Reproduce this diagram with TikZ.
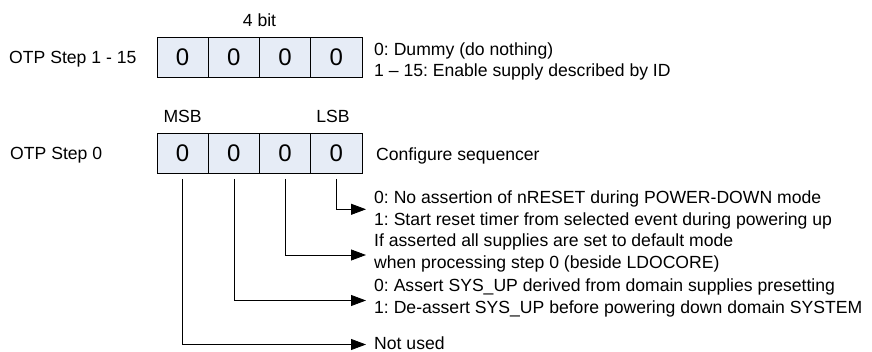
\documentclass[tikz,border=0pt]{standalone}
\usepackage{fontspec}
\setmainfont{Liberation Sans}
\frenchspacing
\usetikzlibrary{arrows.meta}
\definecolor{cellfill}{RGB}{230,236,246}
\tikzset{
  cell/.style={draw=black, fill=cellfill, line width=0.8pt, minimum width=51.25pt, minimum height=40pt, inner sep=0pt, font=\fontsize{24}{28}\selectfont},
  txt/.style={inner sep=0pt, anchor=base west, font=\fontsize{17.6}{21}\selectfont},
  ctxt/.style={inner sep=0pt, anchor=base, font=\fontsize{17.6}{21}\selectfont},
  conn/.style={draw=black, line width=0.8pt, -{Triangle[length=15pt,width=11pt]}}
}
\begin{document}
\begin{tikzpicture}[x=1pt,y=-1pt]
\useasboundingbox (0,0) rectangle (872,352);
% top register
\node[ctxt] (fourbit) at (259.5,26.5) {4 bit};
\node[txt] (lbltop) at (9,63.3) {OTP Step 1 - 15};
\node[cell] (a1) at (182.6,57) {0};
\node[cell] (a2) at (233.9,57) {0};
\node[cell] (a3) at (285.1,57) {0};
\node[cell] (a4) at (336.4,57) {0};
\node[txt] (d0) at (374,56) {0: Dummy (do nothing)};
\node[txt] (d1) at (374,76.5) {1 -- 15: Enable supply described by ID};
% bottom register
\node[ctxt] (msb) at (182.6,122.7) {MSB};
\node[ctxt] (lsb) at (333,122.7) {LSB};
\node[txt] (lblbot) at (10,159.3) {OTP Step 0};
\node[cell] (b1) at (182.6,153.5) {0};
\node[cell] (b2) at (233.9,153.5) {0};
\node[cell] (b3) at (285.1,153.5) {0};
\node[cell] (b4) at (336.4,153.5) {0};
\node[txt] (cfg) at (376,161) {Configure sequencer};
% descriptions
\node[txt] (r1) at (374,203.4) {0: No assertion of nRESET during POWER-DOWN mode};
\node[txt] (r2) at (374,225.6) {1: Start reset timer from selected event during powering up};
\node[txt] (r3) at (374,247) {If asserted all supplies are set to default mode};
\node[txt] (r4) at (374,268.6) {when processing step 0 (beside LDOCORE)};
\node[txt] (r5) at (374,291.6) {0: Assert SYS\_UP derived from domain supplies presetting};
\node[txt] (r6) at (374,313.6) {1: De-assert SYS\_UP before powering down domain SYSTEM};
\node[txt] (r7) at (374,349) {Not used};
% connector points
\coordinate (s4) at (336.4,179);
\coordinate (s3) at (285.1,179);
\coordinate (s2) at (233.9,179);
\coordinate (s1) at (182.6,179);
\coordinate (e4) at (366,209.3);
\coordinate (e3) at (366,255);
\coordinate (e2) at (366,300.5);
\coordinate (e1) at (366,344.5);
\draw[conn] (s4) |- (e4);
\draw[conn] (s3) |- (e3);
\draw[conn] (s2) |- (e2);
\draw[conn] (s1) |- (e1);
\end{tikzpicture}
\end{document}
